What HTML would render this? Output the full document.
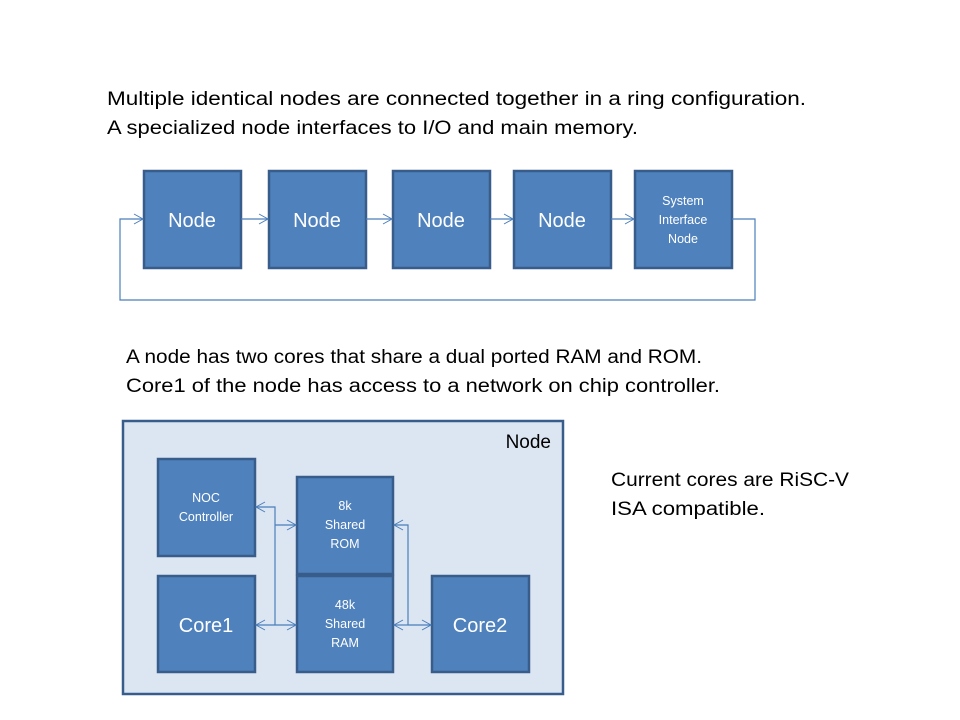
<!DOCTYPE html>
<html><head><meta charset="utf-8"><style>
html,body{margin:0;padding:0;background:#fff;}
svg{display:block;}
text{font-family:"Liberation Sans",sans-serif;}
</style></head><body>
<svg width="960" height="720" viewBox="0 0 960 720" xmlns="http://www.w3.org/2000/svg">
<defs>
<marker id="a" markerWidth="12" markerHeight="12" refX="10" refY="6" orient="auto" markerUnits="userSpaceOnUse">
<path d="M1,1 L10,6 L1,11" fill="none" stroke="#4a7ebb" stroke-width="1"/>
</marker>
</defs>
<g font-size="19" fill="#000">
<text x="107" y="105" textLength="699" lengthAdjust="spacingAndGlyphs">Multiple identical nodes are connected together in a ring configuration.</text>
<text x="107" y="134" textLength="531" lengthAdjust="spacingAndGlyphs">A specialized node interfaces to I/O and main memory.</text>
<text x="126" y="363" textLength="576" lengthAdjust="spacingAndGlyphs">A node has two cores that share a dual ported RAM and ROM.</text>
<text x="126" y="392" textLength="594" lengthAdjust="spacingAndGlyphs">Core1 of the node has access to a network on chip controller.</text>
<text x="611" y="486" textLength="238" lengthAdjust="spacingAndGlyphs">Current cores are RiSC-V</text>
<text x="611" y="515" textLength="154" lengthAdjust="spacingAndGlyphs">ISA compatible.</text>
</g>
<!-- top ring -->
<g fill="#4f81bd" stroke="#385d8a" stroke-width="2.5">
<rect x="144" y="171" width="97" height="97"/>
<rect x="269" y="171" width="97" height="97"/>
<rect x="393" y="171" width="97" height="97"/>
<rect x="514" y="171" width="97" height="97"/>
<rect x="635" y="171" width="97" height="97"/>
</g>
<g stroke="#4a7ebb" stroke-width="1.2" fill="none">
<line x1="241" y1="219" x2="268" y2="219" marker-end="url(#a)"/>
<line x1="366" y1="219" x2="392" y2="219" marker-end="url(#a)"/>
<line x1="490" y1="219" x2="513" y2="219" marker-end="url(#a)"/>
<line x1="611" y1="219" x2="634" y2="219" marker-end="url(#a)"/>
<polyline points="732,219 755,219 755,300 120,300 120,219 143,219" marker-end="url(#a)"/>
</g>
<g fill="#fff" text-anchor="middle">
<text x="192" y="227" font-size="20">Node</text>
<text x="317" y="227" font-size="20">Node</text>
<text x="441" y="227" font-size="20">Node</text>
<text x="562" y="227" font-size="20">Node</text>
<text x="683" y="205" font-size="12.5">System</text>
<text x="683" y="224" font-size="12.5">Interface</text>
<text x="683" y="243" font-size="12.5">Node</text>
</g>
<!-- node detail -->
<rect x="123" y="421" width="440" height="273" fill="#dce6f2" stroke="#385d8a" stroke-width="2.5"/>
<text x="551" y="448" font-size="19" text-anchor="end">Node</text>
<g fill="#4f81bd" stroke="#385d8a" stroke-width="2.5">
<rect x="158" y="459" width="97" height="97"/>
<rect x="297" y="477" width="96" height="97"/>
<rect x="297" y="576" width="96" height="96"/>
<rect x="158" y="576" width="97" height="96"/>
<rect x="432" y="576" width="97" height="96"/>
</g>
<g stroke="#4a7ebb" stroke-width="1.2" fill="none">
<polyline points="275,625 275,507 256,507" marker-end="url(#a)"/>
<line x1="275" y1="525" x2="296" y2="525" marker-end="url(#a)"/>
<line x1="275" y1="625" x2="256" y2="625" marker-end="url(#a)"/>
<line x1="275" y1="625" x2="296" y2="625" marker-end="url(#a)"/>
<polyline points="408,625 408,525 394,525" marker-end="url(#a)"/>
<line x1="408" y1="625" x2="394" y2="625" marker-end="url(#a)"/>
<line x1="408" y1="625" x2="431" y2="625" marker-end="url(#a)"/>
</g>
<g fill="#fff" text-anchor="middle" font-size="12.5">
<text x="206" y="502">NOC</text>
<text x="206" y="521">Controller</text>
<text x="345" y="510">8k</text>
<text x="345" y="529">Shared</text>
<text x="345" y="548">ROM</text>
<text x="345" y="609">48k</text>
<text x="345" y="628">Shared</text>
<text x="345" y="647">RAM</text>
<text x="206" y="632" font-size="20">Core1</text>
<text x="480" y="632" font-size="20">Core2</text>
</g>
</svg>
</body></html>
